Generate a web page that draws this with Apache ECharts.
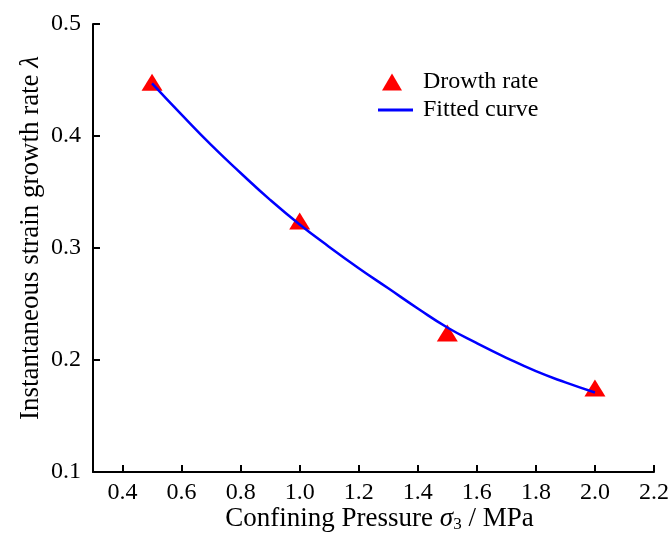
<!DOCTYPE html>
<html>
<head>
<meta charset="utf-8">
<script src="https://cdn.jsdelivr.net/npm/echarts@6/dist/echarts.min.js"></script>
<style>
html,body{margin:0;padding:0;background:#fff;}
#chart{width:672px;height:547px;}
</style>
</head>
<body>
<div id="chart"></div>
<script>
// Measured data (triangles)
const pressure = [0.5, 1.0, 1.5, 2.0];
const growthRate = [0.448, 0.324, 0.224, 0.175];
// Fitted curve
const curveX = [0.5, 0.6, 0.7, 0.8, 0.9, 1.0, 1.1, 1.2, 1.3, 1.4, 1.5, 1.6, 1.7, 1.8, 1.9, 2.0];
const curveY = [0.447, 0.419, 0.392, 0.367, 0.343, 0.321, 0.301, 0.282, 0.264, 0.246, 0.229, 0.215, 0.202, 0.190, 0.180, 0.171];
// Tick labels
const xTicks = [0.4, 0.6, 0.8, 1.0, 1.2, 1.4, 1.6, 1.8, 2.0, 2.2];
const yTicks = [0.1, 0.2, 0.3, 0.4, 0.5];

const FONT = "'Times New Roman', 'Liberation Serif', serif";
const chart = echarts.init(document.getElementById('chart'), null, {renderer: 'canvas'});

const tickFont = {fontFamily: FONT, fontSize: 24, color: '#000'};

chart.setOption({
  animation: false,
  backgroundColor: '#fff',
  textStyle: {fontFamily: FONT, color: '#000'},
  grid: {left: 93, right: 17, top: 24, bottom: 75, containLabel: false},
  legend: [
    {
      data: [{name: 'Drowth rate', icon: 'triangle'}],
      left: 382, top: 70, padding: 0,
      itemWidth: 20, itemHeight: 17,
      textStyle: {fontFamily: FONT, fontSize: 24, color: '#000', padding: [0, 0, 0, 16]},
      selectedMode: false
    },
    {
      data: [{name: 'Fitted curve', icon: 'rect'}],
      left: 378, top: 98, padding: 0,
      itemWidth: 35, itemHeight: 3,
      textStyle: {fontFamily: FONT, fontSize: 24, color: '#000', padding: [0, 0, 0, 5]},
      selectedMode: false
    }
  ],
  xAxis: {
    type: 'value',
    min: 0.3, max: 2.2,
    name: 'Confining Pressure {i|σ}{sub|3} / MPa',
    nameLocation: 'middle',
    nameGap: 32,
    nameMoveOverlap: false,
    nameTextStyle: {
      fontFamily: FONT, fontSize: 27, color: '#000', padding: [0, 0, 0, 12],
      rich: {
        i: {fontFamily: FONT, fontSize: 27, fontStyle: 'italic', color: '#000'},
        sub: {fontFamily: FONT, fontSize: 17, color: '#000', verticalAlign: 'bottom', padding: [12, 0, 0, 0]}
      }
    },
    axisLine: {show: true, onZero: false, lineStyle: {color: '#000', width: 2}},
    axisTick: {show: true, inside: true, length: 7, lineStyle: {color: '#000', width: 2}, customValues: xTicks},
    axisLabel: Object.assign({margin: 9, customValues: xTicks, formatter: v => Number(v).toFixed(1)}, tickFont),
    splitLine: {show: false}
  },
  yAxis: {
    type: 'value',
    min: 0.1, max: 0.5, interval: 0.1,
    name: 'Instantaneous strain growth rate {i|λ}',
    nameLocation: 'middle',
    nameGap: 49,
    nameMoveOverlap: false,
    nameTextStyle: {
      fontFamily: FONT, fontSize: 27, color: '#000', padding: [0, 0, 0, 20],
      rich: {i: {fontFamily: FONT, fontSize: 27, fontStyle: 'italic', color: '#000'}}
    },
    axisLine: {show: true, onZero: false, lineStyle: {color: '#000', width: 2}},
    axisTick: {show: true, inside: true, length: 7, lineStyle: {color: '#000', width: 2}},
    axisLabel: Object.assign({margin: 12, formatter: v => Number(v).toFixed(1)}, tickFont),
    splitLine: {show: false}
  },
  series: [
    {
      name: 'Fitted curve',
      type: 'line',
      data: curveX.map((x, i) => [x, curveY[i]]),
      smooth: true,
      showSymbol: false,
      symbol: 'none',
      lineStyle: {color: '#0000FF', width: 2.5},
      itemStyle: {color: '#0000FF'},
      z: 3
    },
    {
      name: 'Drowth rate',
      type: 'scatter',
      data: pressure.map((x, i) => [x, growthRate[i]]),
      symbol: 'triangle',
      symbolSize: [21, 17],
      itemStyle: {color: '#FF0000', opacity: 1},
      z: 2
    }
  ]
});
</script>
</body>
</html>
